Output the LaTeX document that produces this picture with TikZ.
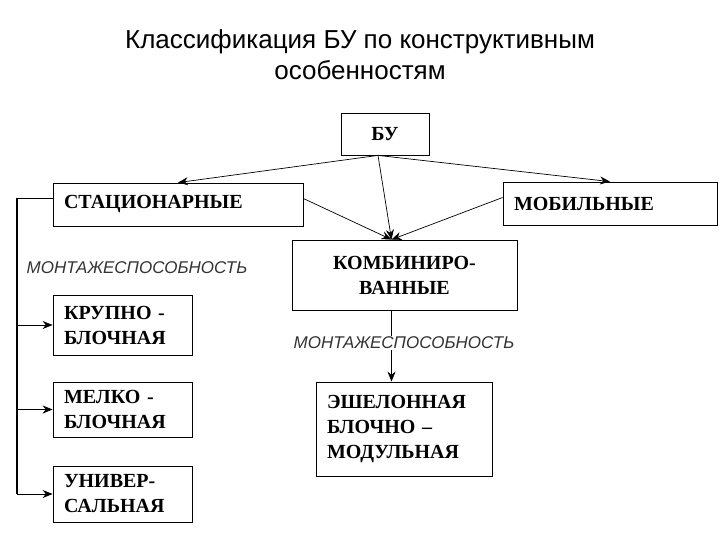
\documentclass[tikz,border=0pt]{standalone}
\usepackage{fontspec}
\setmainfont{Liberation Serif}
\setsansfont{Liberation Sans}
\usepackage{tikz}
\usetikzlibrary{arrows.meta, positioning, calc}
\tikzset{
  box/.style={rectangle, draw=black, line width=0.8pt, align=left, inner xsep=11pt,
    font=\fontsize{20}{25}\selectfont\bfseries},
  arrow/.style={-{Stealth[length=10pt,width=8pt]}, line width=0.7pt, color=black},
  trunk/.style={line width=1.6pt, color=black},
  tag/.style={font=\fontsize{17}{20}\selectfont\sffamily\itshape, color=black!80}
}
\begin{document}
\begin{tikzpicture}[x=1pt, y=-1pt]
\useasboundingbox (0,0) rectangle (720,540);

% title
\node[font=\fontsize{26}{31}\selectfont\sffamily, align=center] (title) at (360,55)
  {Классификация БУ по конструктивным\\особенностям};

\node[box, text width=66pt, align=center, minimum height=42pt] (bu)    at (385,134)   {БУ};
\node[box, text width=228pt, minimum height=43pt]               (stat)  at (178,204.5) {СТАЦИОНАРНЫЕ};
\node[box, text width=192pt, minimum height=43pt]               (mob)   at (610,203.5) {МОБИЛЬНЫЕ};
\node[box, text width=203pt, align=center, minimum height=70pt] (komb)  at (404.5,275) {КОМБИНИРО-\\ВАННЫЕ};
\node[box, text width=154pt, minimum height=94pt]               (eshel) at (404,429)   {ЭШЕЛОННАЯ\\БЛОЧНО --\\МОДУЛЬНАЯ};
\node[box, text width=117pt, minimum height=60pt]               (krup)  at (122.5,325) {КРУПНО -\\БЛОЧНАЯ};
\node[box, text width=117pt, minimum height=55pt]               (melk)  at (122.5,409.5) {МЕЛКО -\\БЛОЧНАЯ};
\node[box, text width=117pt, minimum height=56pt]               (univ)  at (122.5,494) {УНИВЕР-\\САЛЬНАЯ};

% arrows from the top box
\coordinate (buout) at ([xshift=-7pt]bu.south);
\coordinate (kombin) at ([xshift=-13pt]komb.north);
\draw[arrow] (buout) -- (stat.north);
\draw[arrow] (buout) -- (mob.north);
\draw[arrow] (buout) -- (kombin);
\draw[arrow] ([yshift=6pt]stat.east) -- (kombin);
\draw[arrow] ([yshift=6pt]mob.west) -- (kombin);

% left trunk
\coordinate (trunkend) at (17,494);
\draw[trunk] ([yshift=6pt]stat.west) -| (trunkend);
\draw[arrow] (trunkend |- krup.west) -- (krup.west);
\draw[arrow] (trunkend |- melk.west) -- (melk.west);
\draw[arrow] (trunkend) -- (univ.west);
\node[tag] (tagleft) at (137,268) {МОНТАЖЕСПОСОБНОСТЬ};

% right branch
\coordinate (kombout) at ([xshift=-13pt]komb.south);
\draw[arrow] (kombout) -- (kombout |- eshel.north);
\node[tag, fill=white, inner sep=1pt] (tagright) at (404,343) {МОНТАЖЕСПОСОБНОСТЬ};
\end{tikzpicture}
\end{document}
